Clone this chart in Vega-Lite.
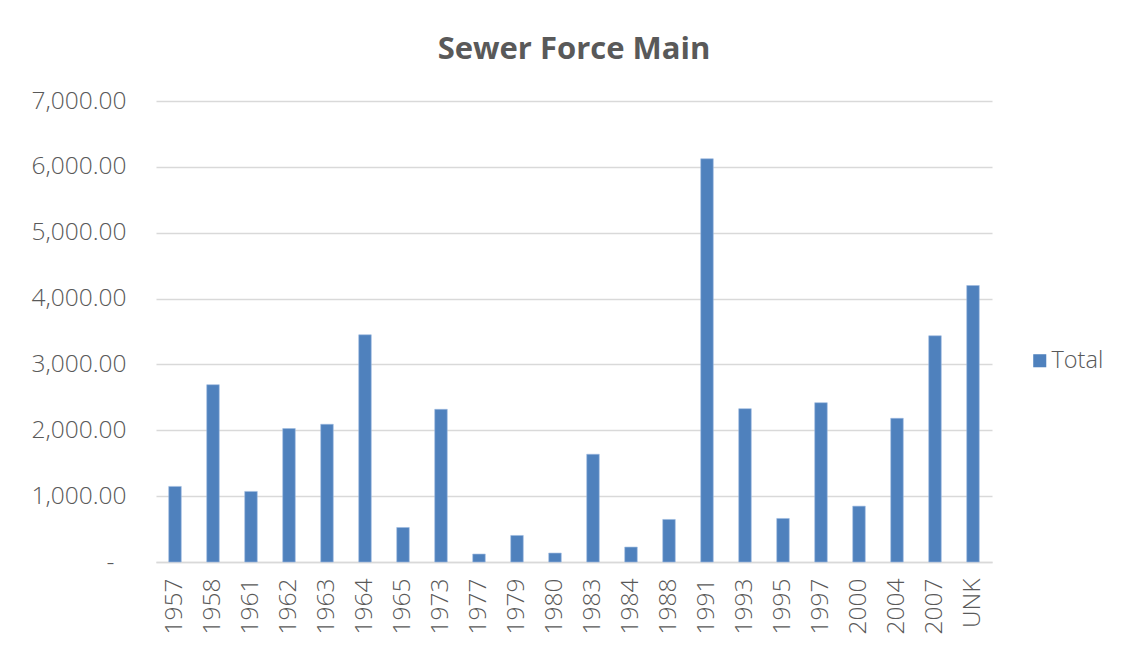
{
  "$schema": "https://vega.github.io/schema/vega-lite/v6.json",
  "width": 836,
  "height": 461,
  "autosize": {"type": "none"},
  "padding": {"left": 156, "top": 101, "right": 133, "bottom": 86},
  "background": "white",
  "title": {
    "text": "Sewer Force Main",
    "font": "Open Sans",
    "fontSize": 31,
    "fontWeight": "bold",
    "color": "#595959",
    "anchor": "middle",
    "offset": 22
  },
  "data": {
    "values": [
      {"Year": "1957", "Total": 1148},
      {"Year": "1958", "Total": 2692},
      {"Year": "1961", "Total": 1072},
      {"Year": "1962", "Total": 2026},
      {"Year": "1963", "Total": 2091},
      {"Year": "1964", "Total": 3450},
      {"Year": "1965", "Total": 524},
      {"Year": "1973", "Total": 2318},
      {"Year": "1977", "Total": 121},
      {"Year": "1979", "Total": 403},
      {"Year": "1980", "Total": 136},
      {"Year": "1983", "Total": 1636},
      {"Year": "1984", "Total": 227},
      {"Year": "1988", "Total": 646},
      {"Year": "1991", "Total": 6123},
      {"Year": "1993", "Total": 2328},
      {"Year": "1995", "Total": 661},
      {"Year": "1997", "Total": 2419},
      {"Year": "2000", "Total": 848},
      {"Year": "2004", "Total": 2182},
      {"Year": "2007", "Total": 3435},
      {"Year": "UNK", "Total": 4198}
    ]
  },
  "mark": {"type": "bar", "stroke": "#9dbbe0", "strokeWidth": 0.6},
  "encoding": {
    "x": {
      "field": "Year",
      "type": "nominal",
      "sort": null,
      "title": null,
      "scale": {"paddingInner": 0.67, "paddingOuter": 0.335},
      "axis": {
        "labelAngle": -90,
        "labelFont": "Open Sans",
        "labelFontWeight": 300,
        "labelFontSize": 24.5,
        "labelColor": "#595959",
        "labelPadding": 16,
        "ticks": false,
        "domainColor": "#d9d9d9",
        "domainWidth": 1.5,
        "grid": false
      }
    },
    "y": {
      "field": "Total",
      "type": "quantitative",
      "title": null,
      "scale": {"domain": [0, 7000], "nice": false},
      "axis": {
        "values": [0, 1000, 2000, 3000, 4000, 5000, 6000, 7000],
        "labelExpr": "datum.value == 0 ? '-' : format(datum.value, ',.2f')",
        "labelFont": "Open Sans",
        "labelFontWeight": 300,
        "labelFontSize": 24.5,
        "labelColor": "#595959",
        "labelPadding": {"condition": {"test": "datum.value == 0", "value": 42}, "value": 30},
        "ticks": false,
        "domain": false,
        "gridColor": "#d9d9d9",
        "gridWidth": 1.5
      }
    },
    "color": {
      "datum": "Total",
      "type": "nominal",
      "scale": {"range": ["#4F81BD"]},
      "legend": {
        "title": null,
        "orient": "none",
        "legendX": 872,
        "legendY": 248,
        "symbolType": "square",
        "symbolSize": 170,
        "symbolStrokeWidth": 0,
        "labelFont": "Open Sans",
        "labelFontWeight": 300,
        "labelFontSize": 23.5,
        "labelColor": "#595959",
        "labelOffset": 0
      }
    }
  },
  "config": {"view": {"stroke": null}}
}
